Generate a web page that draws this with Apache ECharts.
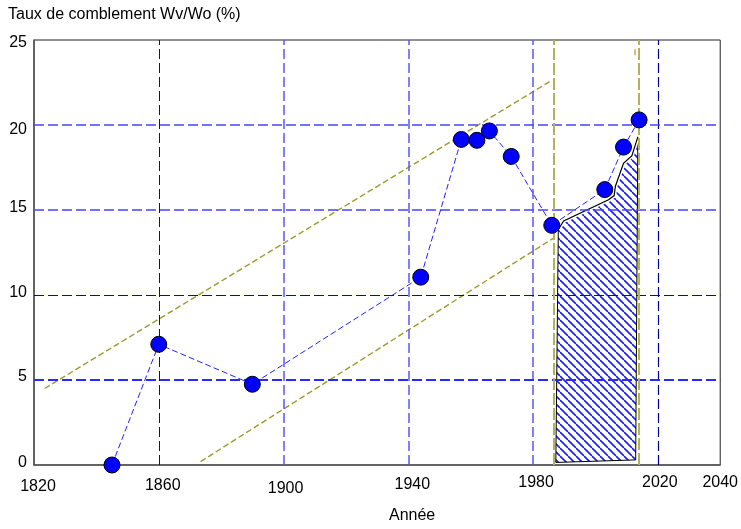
<!DOCTYPE html>
<html><head><meta charset="utf-8">
<script src="https://cdn.jsdelivr.net/npm/echarts@6/dist/echarts.min.js"></script>
<style>html,body{margin:0;padding:0;background:#fff}#c{width:741px;height:529px}</style>
</head><body><div id="c"></div>
<script>
// ---- data ----
const years  = [1845, 1860, 1890, 1944, 1957, 1962, 1966, 1973, 1986, 2003, 2009, 2014];
const values = [0, 7.1, 4.75, 11.05, 19.15, 19.1, 19.65, 18.15, 14.1, 16.2, 18.7, 20.3];
const xTicks = [1820, 1860, 1900, 1940, 1980, 2020, 2040];
const yTicks = [0, 5, 10, 15, 20, 25];
const upperTrendYears  = [1823.4, 1985.3];
const upperTrendValues = [4.5, 22.55];
const lowerTrendYears  = [1873.4, 1986.6];
const lowerTrendValues = [0.2, 13.35];
const periodBoundYears = [1986.6, 2014];
const smallMarkYears   = [2012.7, 2012.7];
const smallMarkValues  = [24.1, 24.45];
const hatchYears  = [1987.3, 1988.1, 1989.8, 2004.2, 2006.0, 2006.4, 2009.0, 2011.7, 2013.6, 2012.9];
const hatchValues = [0.15, 13.85, 14.35, 15.6, 15.85, 16.4, 17.75, 18.2, 19.3, 0.3];
const vGridYears  = [1860, 1900, 1940, 1980, 2020];
const hGridValues = [5, 10, 15, 20];
const titleText = 'Taux de comblement Wv/Wo (%)';
const xName = 'Année';

// ---- styles ----
const FONT = 'Liberation Sans, Arial, sans-serif';
const FS = 16;
const vGridStyle = {
  1860: {color: '#0000ee', width: 1},
  1900: {color: '#5555ff', width: 1.5},
  1940: {color: '#5555ff', width: 1.5},
  1980: {color: '#5555ff', width: 1.5},
  2020: {color: '#000090', width: 1.2}
};
const hGridStyle = {
  5:  {color: '#2a2aff', width: 2},
  10: {color: '#0000dd', width: 1},
  15: {color: '#4444ff', width: 1.5},
  20: {color: '#4444ff', width: 1.5}
};
// label nudges [dx, dy]
const xLabShift = {1820:[4,4],1860:[4,3],1900:[2,6],1940:[4,2],1980:[3,0],2020:[2,0],2040:[0,0]};
const yLabShift = {0:-2,5:-3,10:-2,15:-2,20:5,25:3};

const xRich = {}; xTicks.forEach(t => {
  const s = xLabShift[t] || [0,0];
  xRich['t'+t] = {fontSize:FS, fontFamily:FONT, color:'#000', padding:[s[1], 0, 0, s[0]*2]};
});
const yRich = {}; yTicks.forEach(t => {
  const d = yLabShift[t] || 0;
  yRich['t'+t] = {fontSize:FS, fontFamily:FONT, color:'#000',
    padding: d >= 0 ? [d*2,0,0,0] : [0,0,-d*2,0]};
});

// hatch pattern
const T = 8;
const hatch = document.createElement('canvas');
hatch.width = T; hatch.height = T;
(function(){
  const g = hatch.getContext('2d');
  g.fillStyle = '#fff'; g.fillRect(0,0,T,T);
  g.strokeStyle = '#1a1aff'; g.lineWidth = 1.6;
  [-T, 0, T].forEach(c => { g.beginPath(); g.moveTo(0, c); g.lineTo(T, c+T); g.stroke(); });
})();

const chart = echarts.init(document.getElementById('c'), null, {renderer:'canvas'});
chart.setOption({
  animation: false,
  backgroundColor: '#fff',
  title: {text: titleText, left: 8, top: 7, padding: 0,
    textStyle: {fontSize: FS, fontWeight: 'normal', color: '#000', fontFamily: FONT}},
  grid: {left: 34, right: 19, top: 40, bottom: 59, show: true, borderColor: '#222', borderWidth: 1},
  xAxis: {
    type: 'value', min: 1820, max: 2040, interval: 40,
    name: xName, nameLocation: 'middle', nameGap: 43,
    nameTextStyle: {fontSize: FS, fontFamily: FONT, color: '#000', padding: [0,0,0,70]},
    axisLine: {show: true, lineStyle: {color: '#555', width: 1.5}},
    axisTick: {show: false}, splitLine: {show: false},
    axisLabel: {margin: 10, formatter: v => '{t'+v+'|'+v+'}', rich: xRich, showMinLabel: true, showMaxLabel: true}
  },
  yAxis: {
    type: 'value', min: 0, max: 25, interval: 5,
    axisLine: {show: true, lineStyle: {color: '#555', width: 1.5}},
    axisTick: {show: false}, splitLine: {show: false},
    axisLabel: {margin: 7, formatter: v => '{t'+v+'|'+v+'}', rich: yRich}
  },
  series: [
    { // grid lines
      type: 'line', data: [], silent: true, z: 1,
      markLine: {
        silent: true, symbol: ['none','none'], label: {show: false},
        data: vGridYears.map(y => ({xAxis: y, lineStyle: {color: vGridStyle[y].color, width: vGridStyle[y].width, type: [10,4]}}))
          .concat(hGridValues.map(v => ({yAxis: v, lineStyle: {color: hGridStyle[v].color, width: hGridStyle[v].width, type: [10,4]}})))
      }
    },
    { // period boundaries
      type: 'line', data: [], silent: true, z: 2,
      markLine: {
        silent: true, symbol: ['none','none'], label: {show: false},
        lineStyle: {color: '#b5b05a', width: 2, type: [12,3]},
        data: periodBoundYears.map(y => ({xAxis: y}))
      }
    },
    {
      type: 'line', z: 3, symbol: 'none', silent: true,
      data: upperTrendYears.map((y,i) => [y, upperTrendValues[i]]),
      lineStyle: {color: '#9c9a2a', width: 1.4, type: [6,3]}
    },
    {
      type: 'line', z: 3, symbol: 'none', silent: true,
      data: lowerTrendYears.map((y,i) => [y, lowerTrendValues[i]]),
      lineStyle: {color: '#9c9a2a', width: 1.4, type: [6,3]}
    },
    {
      type: 'line', z: 3, symbol: 'none', silent: true,
      data: smallMarkYears.map((y,i) => [y, smallMarkValues[i]]),
      lineStyle: {color: '#b5b05a', width: 1.5}
    },
    { // hatched area
      type: 'custom', z: 4, silent: true,
      data: [[hatchYears[0], hatchValues[0]]],
      renderItem: (params, api) => {
        const pts = hatchYears.map((y,i) => api.coord([y, hatchValues[i]]));
        const top = pts.slice(1, pts.length - 1);
        return {type: 'group', children: [
          {type: 'polygon', shape: {points: pts}, style: {fill: {image: hatch, repeat: 'repeat'}, stroke: '#000', lineWidth: 1}},
          {type: 'polyline', shape: {points: top}, style: {stroke: '#fff', lineWidth: 4, fill: null}},
          {type: 'polyline', shape: {points: top}, style: {stroke: '#000', lineWidth: 1.2, fill: null}}
        ]};
      }
    },
    {
      type: 'line', z: 10,
      data: years.map((y,i) => [y, values[i]]),
      symbol: 'circle', symbolSize: 16,
      itemStyle: {color: '#0000ff', borderColor: '#000', borderWidth: 1},
      lineStyle: {color: '#2222ff', width: 1, type: [6,3]}
    }
  ]
});
</script></body></html>
